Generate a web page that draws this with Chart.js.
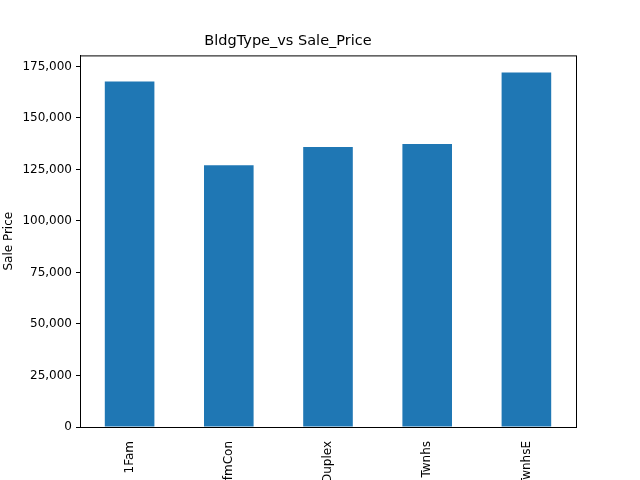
<!DOCTYPE html>
<html>
<head>
<meta charset="utf-8">
<script src="https://cdn.jsdelivr.net/npm/chart.js@4/dist/chart.umd.min.js"></script>
<style>
  html, body { margin: 0; padding: 0; background: #fff; overflow: hidden; }
  #wrap { width: 640px; height: 480px; }
</style>
</head>
<body>
<div id="wrap"><canvas id="chart" width="640" height="480"></canvas></div>
<script>
// Data
const categories = ['1Fam', '2fmCon', 'Duplex', 'Twnhs', 'TwnhsE'];
const salePrice = [167700, 127100, 135900, 137400, 172100];
const yTicks = [0, 25000, 50000, 75000, 100000, 125000, 150000, 175000];

// draw the full box like matplotlib spines
const frame = {
    id: 'frame',
    afterDraw(chart) {
        const { ctx, chartArea: a } = chart;
        ctx.save();
        ctx.strokeStyle = '#000';
        ctx.lineWidth = 1;
        ctx.strokeRect(a.left + 0.5, a.top + 0.5, a.right - a.left, a.bottom - a.top);
        ctx.restore();
    }
};

const font = { family: 'DejaVu Sans', size: 12 };

new Chart(document.getElementById('chart').getContext('2d'), {
    type: 'bar',
    data: {
        labels: categories,
        datasets: [{
            data: salePrice,
            backgroundColor: '#1f77b4',
            borderWidth: 0,
            barPercentage: 0.5,
            categoryPercentage: 1.0
        }]
    },
    options: {
        responsive: false,
        animation: false,
        layout: { padding: { left: 0, right: 64, top: 0, bottom: 0 } },
        plugins: {
            legend: { display: false },
            tooltip: { enabled: false },
            title: {
                display: true,
                text: 'BldgType_vs Sale_Price',
                color: '#000',
                font: { family: 'DejaVu Sans', size: 14.5, weight: 'normal' },
                padding: { top: 33, bottom: 5 }
            }
        },
        scales: {
            x: {
                grid: { display: false, drawTicks: true },
                border: { color: '#000' },
                ticks: { color: '#000', font, minRotation: 90, maxRotation: 90, padding: 6 },
                afterFit: (s) => { s.height = 53; }
            },
            y: {
                min: 0,
                max: 180375,
                afterBuildTicks: (s) => { s.ticks = yTicks.map(v => ({ value: v })); },
                grid: { drawOnChartArea: false, tickLength: 4, color: '#000' },
                border: { color: '#000' },
                ticks: { color: '#000', font, padding: 4 },
                title: { display: true, text: 'Sale Price', color: '#000', font, padding: 2 },
                afterFit: (s) => { s.width = 80; }
            }
        }
    },
    plugins: [frame]
});
</script>
</body>
</html>
